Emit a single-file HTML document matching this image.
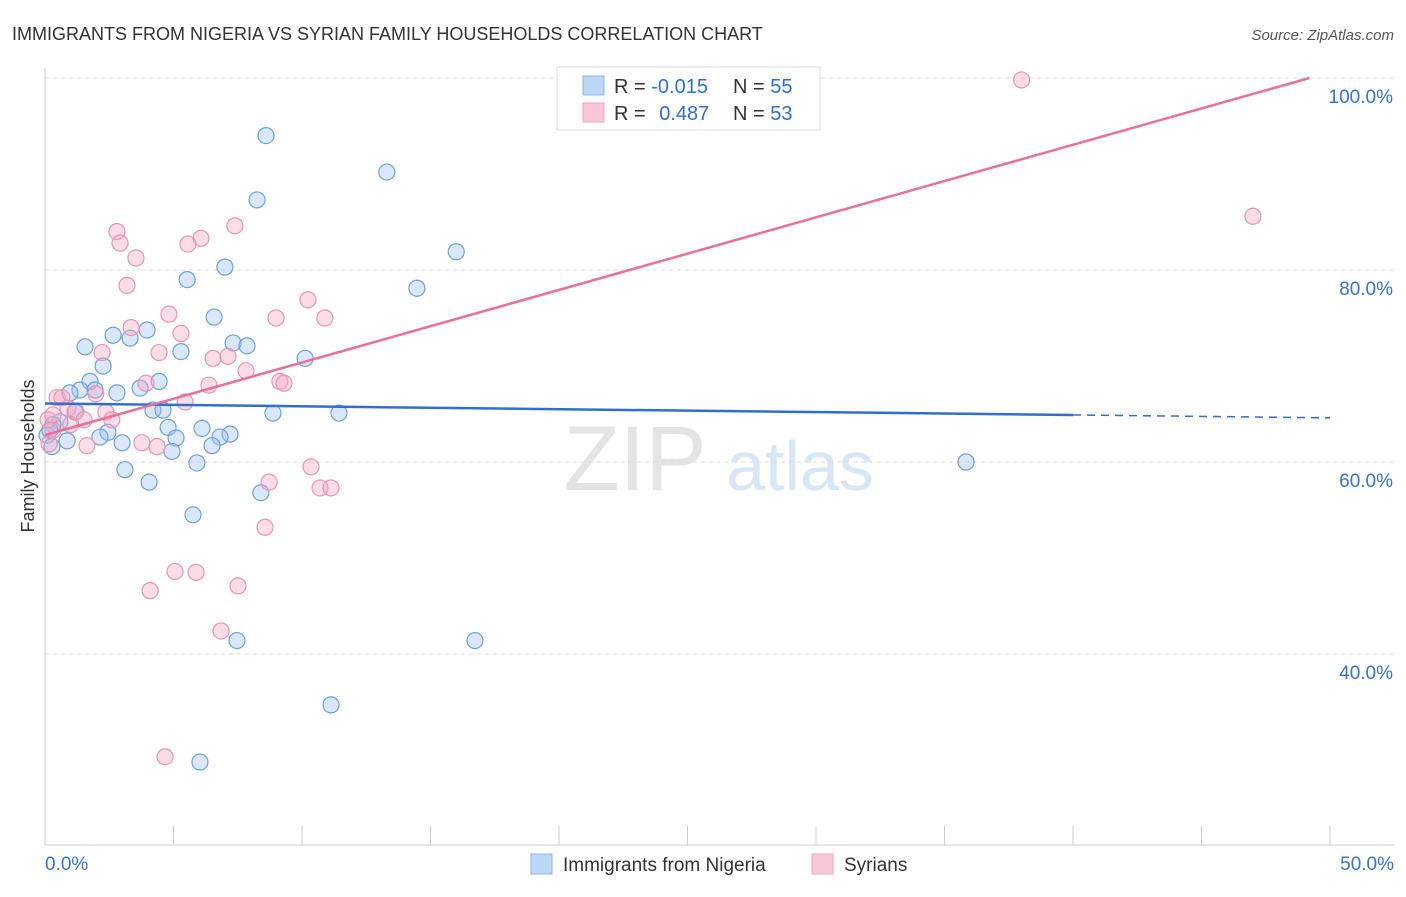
<!DOCTYPE html>
<html><head><meta charset="utf-8"><style>
body{margin:0;background:#fff;font-family:"Liberation Sans",sans-serif;}
svg text{font-family:"Liberation Sans",sans-serif;}
</style></head><body>
<svg id="chart" width="1406" height="892" xmlns="http://www.w3.org/2000/svg">
<text x="12" y="40" font-size="18" fill="#333">IMMIGRANTS FROM NIGERIA VS SYRIAN FAMILY HOUSEHOLDS CORRELATION CHART</text>
<text x="1394" y="40" font-size="15" fill="#555" font-style="italic" text-anchor="end">Source: ZipAtlas.com</text>
<g><text x="635" y="490" font-size="92" fill="#e4e4e4" text-anchor="middle" font-family="Liberation Serif">ZIP</text><text x="800" y="490" font-size="70" fill="#d8e6f5" text-anchor="middle">atlas</text></g>
<g id="grid"></g>
<g id="axes"></g>
<g id="marks"></g>
<g id="lines"></g>
<g>
<rect x="557" y="67" width="263" height="63" fill="#fff" stroke="#ddd"/>
<rect x="583" y="76" width="21" height="19" fill="#bcd6f6" stroke="#8fb6e8"/>
<rect x="583" y="103" width="21" height="19" fill="#f9c6d6" stroke="#f0a5bf"/>
<text x="614" y="93" font-size="20" fill="#333">R = <tspan fill="#2f6fd0">-0.015</tspan></text>
<text x="733" y="93" font-size="20" fill="#333">N = <tspan fill="#2f6fd0">55</tspan></text>
<text x="614" y="120" font-size="20" fill="#333">R = <tspan fill="#2f6fd0" dx="8">0.487</tspan></text>
<text x="733" y="120" font-size="20" fill="#333">N = <tspan fill="#2f6fd0">53</tspan></text>
</g>
<g>
<rect x="531" y="854" width="21" height="20" fill="#bcd6f6" stroke="#8fb6e8"/>
<text x="563" y="871" font-size="19" fill="#333">Immigrants from Nigeria</text>
<rect x="812" y="854" width="21" height="20" fill="#f9c6d6" stroke="#f0a5bf"/>
<text x="844" y="871" font-size="19" fill="#333">Syrians</text>
</g>
<text transform="translate(34,456) rotate(-90)" font-size="18" fill="#333" text-anchor="middle">Family Households</text>
</svg>
<script>
const blueX=[8.6,13.3,8.25,16.0,7.0,5.53,14.47,6.58,3.97,2.65,3.31,1.56,5.29,7.32,7.86,10.12,2.26,1.75,4.44,1.36,0.97,1.95,2.8,3.7,4.2,4.59,8.87,11.44,1.17,0.58,0.31,0.08,4.79,6.11,2.45,2.14,0.86,3.0,5.1,7.2,6.81,6.5,4.94,0.27,5.91,3.11,4.05,8.4,5.76,35.84,7.47,16.73,11.13,6.03,0.19];
const blueY=[94.0,90.2,87.3,81.9,80.3,79.0,78.1,75.1,73.75,73.2,72.9,72.0,71.5,72.4,72.1,70.8,70.0,68.4,68.4,67.5,67.2,67.5,67.2,67.7,65.4,65.4,65.1,65.1,65.2,64.2,63.9,62.8,63.6,63.5,63.1,62.6,62.2,62.0,62.5,62.9,62.6,61.7,61.1,61.6,59.9,59.2,57.9,56.8,54.5,60.0,41.4,41.4,34.7,28.75,63.3];
const pinkX=[27.9,38.0,47.0,7.39,2.8,6.07,2.92,5.56,3.54,3.19,10.23,4.82,8.99,10.89,5.29,3.35,4.44,2.22,6.54,7.12,7.82,9.14,9.3,6.38,3.93,1.98,0.47,0.89,1.2,2.37,5.45,1.52,2.6,1.0,0.31,3.77,4.36,1.63,0.16,10.35,10.7,11.13,8.72,8.56,5.06,5.88,4.09,7.51,6.85,4.67,0.66,0.12,0.31];
const pinkY=[99.8,99.8,85.6,84.6,84.0,83.3,82.8,82.7,81.25,78.4,76.9,75.4,75.0,75.0,73.4,74.0,71.4,71.4,70.8,71.0,69.5,68.4,68.2,68.0,68.2,67.1,66.7,65.6,65.3,65.2,66.25,64.4,64.4,63.9,63.3,62.0,61.6,61.7,61.9,59.5,57.3,57.3,57.9,53.2,48.6,48.5,46.6,47.1,42.4,29.3,66.7,64.4,64.9];
const yTicks=[100,80,60,40];
const yTickLabels=["100.0%","80.0%","60.0%","40.0%"];
const xTicks=[0,5,10,15,20,25,30,35,40,45,50];
const blueTrend=[[0,66.1],[40,64.9],[50,64.6]];
const pinkTrend=[[0,62.8],[49.2,100]];
const NS="http://www.w3.org/2000/svg";
const sx=v=>45+v*25.7;
const sy=v=>78+(100-v)*9.6;
function mk(tag,attrs,parent){const e=document.createElementNS(NS,tag);for(const k in attrs)e.setAttribute(k,attrs[k]);document.getElementById(parent).appendChild(e);return e;}
yTicks.forEach((t,i)=>{
  const l=mk('line',{x1:45,x2:1394,y1:sy(t),y2:sy(t),stroke:'#ddd','stroke-dasharray':'4,4'},'grid');
  
  
  const tx=mk('text',{x:1393,y:sy(t)+25,'font-size':19,fill:'#3a72c8','text-anchor':'end'},'axes');
  tx.textContent=yTickLabels[i];
  
  
});
const ax=mk('line',{x1:45,x2:1394,y1:845,y2:845,stroke:'#ccc'},'axes');


const ay=mk('line',{x1:45,x2:45,y1:68,y2:845,stroke:'#ccc'},'axes');


xTicks.forEach(t=>{
  const l=mk('line',{x1:sx(t),x2:sx(t),y1:826,y2:845,stroke:'#ccc'},'axes');
  
  
});
[[0,"0.0%","start",45],[50,"50.0%","end",1394]].forEach(d=>{
  const tx=mk('text',{x:d[3],y:870,'font-size':19,fill:'#3a72c8','text-anchor':d[2]},'axes');
  tx.textContent=d[1];
  
  
});
blueX.forEach((x,i)=>{
  const c=mk('circle',{cx:sx(x),cy:sy(blueY[i]),r:8,fill:'rgba(160,196,240,0.4)',stroke:'#6fa0dc','stroke-width':1.2},'marks');
  
  
});
pinkX.forEach((x,i)=>{
  const c=mk('circle',{cx:sx(x),cy:sy(pinkY[i]),r:8,fill:'rgba(245,170,195,0.4)',stroke:'#e895b5','stroke-width':1.2},'marks');
  
  
});
const b1=mk('line',{x1:sx(blueTrend[0][0]),y1:sy(blueTrend[0][1]),x2:sx(blueTrend[1][0]),y2:sy(blueTrend[1][1]),stroke:'#2f6fd0','stroke-width':2.5},'lines');


const b2=mk('line',{x1:sx(blueTrend[1][0]),y1:sy(blueTrend[1][1]),x2:sx(blueTrend[2][0]),y2:sy(blueTrend[2][1]),stroke:'#2f6fd0','stroke-width':1.5,'stroke-dasharray':'8,6'},'lines');


const p1=mk('line',{x1:sx(pinkTrend[0][0]),y1:sy(pinkTrend[0][1]),x2:sx(pinkTrend[1][0]),y2:sy(pinkTrend[1][1]),stroke:'#e8709a','stroke-width':2.5},'lines');


</script>
</body></html>
